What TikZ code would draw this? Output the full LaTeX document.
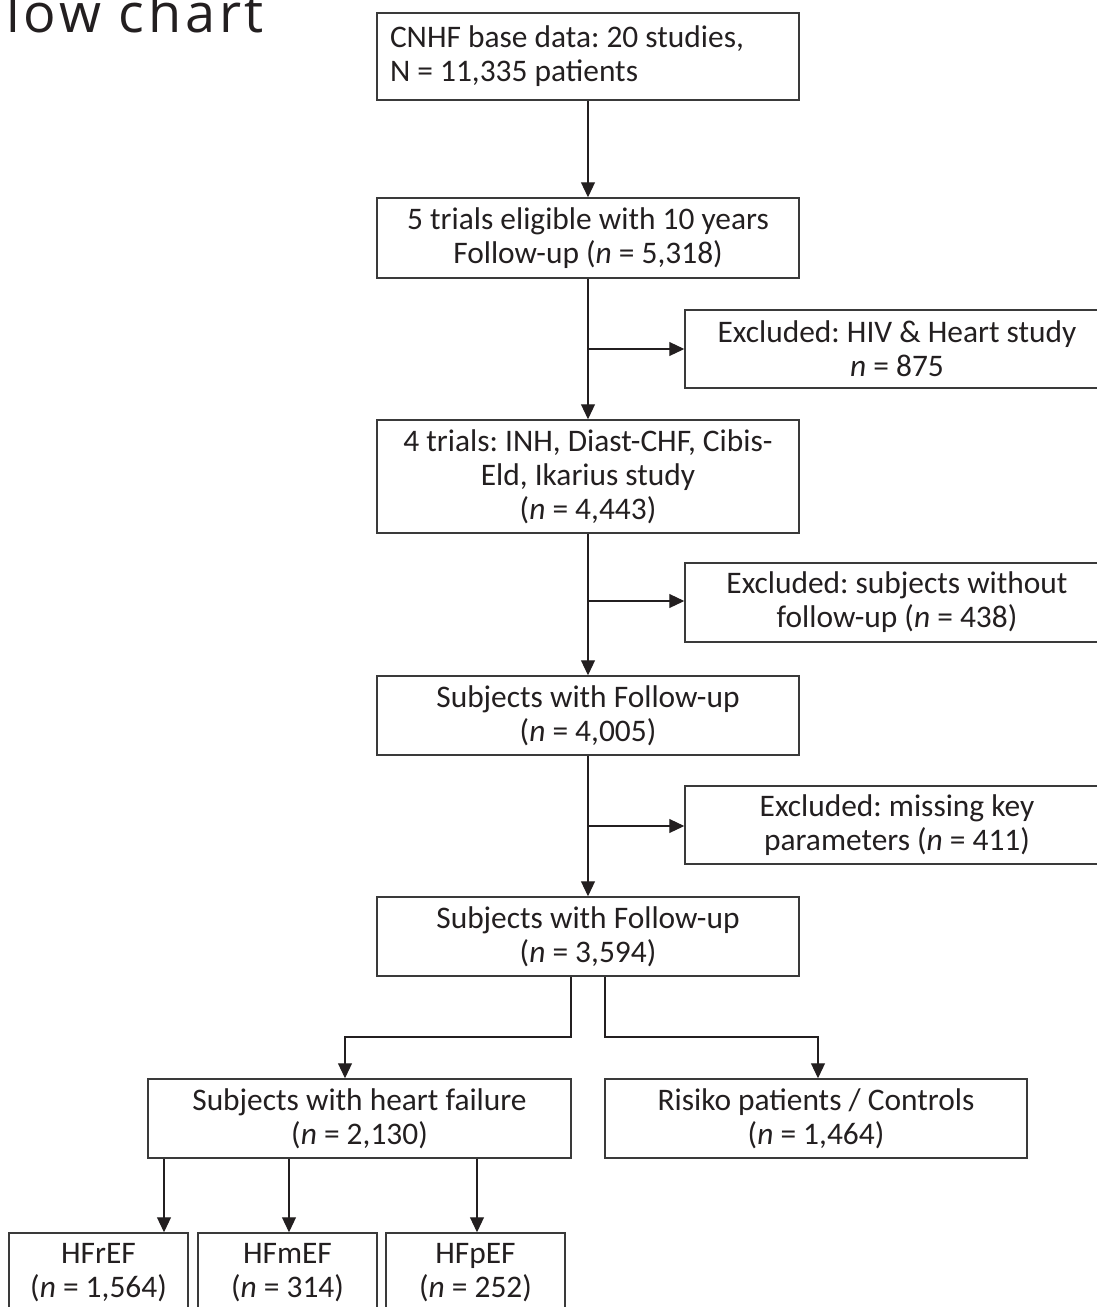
\documentclass[tikz,border=0pt]{standalone}
\usepackage{fontspec}
\setmainfont{Carlito}
\newfontfamily\titlefont[LetterSpace=7]{Open Sans}
\usetikzlibrary{arrows.meta}
\definecolor{ink}{HTML}{231F20}
\definecolor{edge}{HTML}{3A3A3A}
\tikzset{
  box/.style={draw=edge, line width=0.75pt, rectangle, inner sep=0pt, align=center,
    text=ink, font=\fontsize{15.7}{17}\selectfont\frenchspacing, minimum width=211pt, minimum height=39.5pt},
  link/.style={draw=ink, line width=0.55pt},
  arr/.style={link, -{Triangle[length=7.5pt,width=7pt]}},
}
\newcommand{\nn}{\textit{n}}
\begin{document}
\begin{tikzpicture}[x=0.5pt,y=-0.5pt]
\useasboundingbox (0,0) rectangle (1097,1307);
\node[anchor=base west, text=ink, font=\titlefont\fontsize{27}{32}\selectfont, inner sep=0pt] (title) at (6,32) {low chart};

\node[box, text width=198pt, inner xsep=6.5pt, align=flush left, minimum height=43.5pt] (b1) at (588,56.5)
  {CNHF base data: 20 studies,\\N = 11,335 patients};
\node[box, minimum height=40pt] (b2) at (588,238)
  {5 trials eligible with 10 years\\Follow-up (\nn{} = 5,318)};
\node[box, minimum width=212pt, minimum height=39pt] (b3) at (897,349)
  {Excluded: HIV \& Heart study\\\nn{} = 875};
\node[box, minimum height=56.5pt] (b4) at (588,476.5)
  {4 trials: INH, Diast-CHF, Cibis-\\Eld, Ikarius study\\(\nn{} = 4,443)};
\node[box, minimum width=212pt] (b5) at (897,602.5)
  {Excluded: subjects without\\follow-up (\nn{} = 438)};
\node[box] (b6) at (588,715.5)
  {Subjects with Follow-up\\(\nn{} = 4,005)};
\node[box, minimum width=212pt, minimum height=39pt] (b7) at (897,825)
  {Excluded: missing key\\parameters (\nn{} = 411)};
\node[box] (b8) at (588,936.5)
  {Subjects with Follow-up\\(\nn{} = 3,594)};
\node[box, minimum width=211.5pt] (b9) at (359.5,1118.5)
  {Subjects with heart failure\\(\nn{} = 2,130)};
\node[box] (b10) at (816,1118.5)
  {Risiko patients / Controls\\(\nn{} = 1,464)};
\node[box, minimum width=89.5pt] (b11) at (98.5,1272.5) {HFrEF\\(\nn{} = 1,564)};
\node[box, minimum width=89.5pt] (b12) at (287.5,1272.5) {HFmEF\\(\nn{} = 314)};
\node[box, minimum width=89.5pt] (b13) at (475.5,1272.5) {HFpEF\\(\nn{} = 252)};

% main spine
\draw[arr] (b1.south) -- (b2.north);
\draw[arr] (b2.south) -- (b4.north);
\draw[arr] (b4.south) -- (b6.north);
\draw[arr] (b6.south) -- (b8.north);

% exclusions
\coordinate (j1) at (588,349);
\coordinate (j2) at (588,601);
\coordinate (j3) at (588,826);
\draw[arr] (j1) -- (j1 -| b3.west);
\draw[arr] (j2) -- (j2 -| b5.west);
\draw[arr] (j3) -- (j3 -| b7.west);

% split
\coordinate (s1) at (571,1037);
\coordinate (s2) at (605,1037);
\coordinate (t1) at (345,1037);
\coordinate (t2) at (818,1037);
\draw[arr] (s1 |- b8.south) -- (s1) -- (t1) -- (t1 |- b9.north);
\draw[arr] (s2 |- b8.south) -- (s2) -- (t2) -- (t2 |- b10.north);

% subtypes
\coordinate (u1) at (164,1158);
\coordinate (u2) at (289,1158);
\coordinate (u3) at (477,1158);
\draw[arr] (u1 |- b9.south) -- (u1 |- b11.north);
\draw[arr] (u2 |- b9.south) -- (u2 |- b12.north);
\draw[arr] (u3 |- b9.south) -- (u3 |- b13.north);
\end{tikzpicture}
\end{document}
